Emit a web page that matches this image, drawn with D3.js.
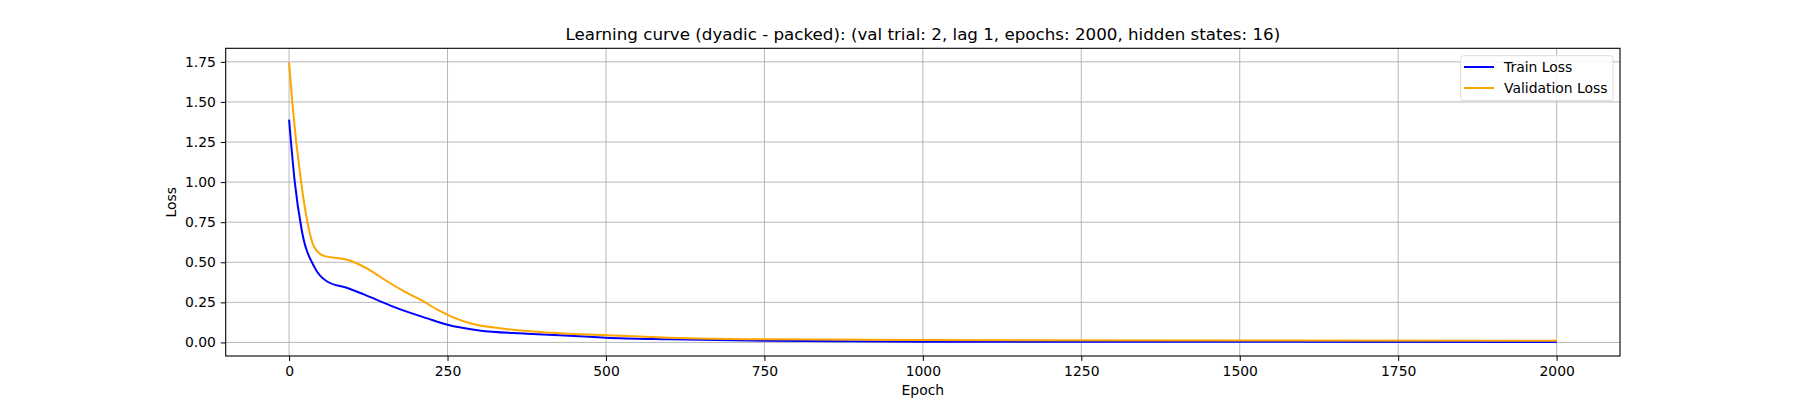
<!DOCTYPE html><html><head><meta charset="utf-8"><script src="https://cdn.jsdelivr.net/npm/d3@7"></script>
<style>body{margin:0;background:#fff}text{font-family:"DejaVu Sans",sans-serif}</style></head><body>
<svg id="c" width="1800" height="400"></svg>
<script>
const trainEpochs=[0,9,20,40,60,92,118,160,180,218,250,300,375,450,500,600,750,1000,1500,2000];
const trainLoss=[1.39,1.0,0.7,0.47,0.38,0.34,0.30,0.23,0.2,0.15,0.11,0.075,0.055,0.04,0.03,0.02,0.01,0.005,0.004,0.003];
const valEpochs=[0,5,19,29,39,55,87,103,128,155,181,208,234,260,290,330,380,440,500,600,750,1000,1500,2000];
const valLoss=[1.745,1.5,1.0,0.75,0.6,0.54,0.52,0.50,0.45,0.38,0.32,0.265,0.205,0.155,0.115,0.09,0.07,0.055,0.045,0.03,0.02,0.015,0.012,0.01];
const xTicks=[0,250,500,750,1000,1250,1500,1750,2000];
const yTicks=[0,0.25,0.5,0.75,1.0,1.25,1.5,1.75];
const L=225.7,R=1620,T=48.3,B=356;
const svg=d3.select("#c");
const x=d3.scaleLinear().domain([-100,2100]).range([L,R]);
const y=d3.scaleLinear().domain([-0.0845,1.8345]).range([B,T]);
const g=svg.append("g");
g.selectAll(".gx").data(xTicks).join("line").attr("x1",d=>x(d)).attr("x2",d=>x(d)).attr("y1",T).attr("y2",B).attr("stroke","#b0b0b0").attr("stroke-width",0.9);
g.selectAll(".gy").data(yTicks).join("line").attr("y1",d=>y(d)).attr("y2",d=>y(d)).attr("x1",L).attr("x2",R).attr("stroke","#b0b0b0").attr("stroke-width",0.9);
const ax=svg.append("g").attr("transform",`translate(0,${B})`).call(d3.axisBottom(x).tickValues(xTicks).tickFormat(d3.format("d")).tickSize(4.9).tickPadding(4.9));
const ay=svg.append("g").attr("transform",`translate(${L},0)`).call(d3.axisLeft(y).tickValues(yTicks).tickFormat(d3.format(".2f")).tickSize(4.9).tickPadding(4.9));
[ax,ay].forEach(a=>{a.select(".domain").remove();a.selectAll("text").attr("font-size","13.9px").attr("fill","#000").style("font-family","DejaVu Sans");a.selectAll("line").attr("stroke","#000")});
const line=d3.line().curve(d3.curveMonotoneX);
svg.append("path").attr("d",line(trainEpochs.map((e,i)=>[x(e),y(trainLoss[i])]))).attr("fill","none").attr("stroke","blue").attr("stroke-width",2);
svg.append("path").attr("d",line(valEpochs.map((e,i)=>[x(e),y(valLoss[i])]))).attr("fill","none").attr("stroke","orange").attr("stroke-width",2);
svg.append("rect").attr("x",L).attr("y",T).attr("width",R-L).attr("height",B-T).attr("fill","none").attr("stroke","#000").attr("stroke-width",1.1);
svg.append("text").attr("x",(L+R)/2).attr("y",40).attr("text-anchor","middle").attr("font-size","16.7px").text("Learning curve (dyadic - packed): (val trial: 2, lag 1, epochs: 2000, hidden states: 16)");
svg.append("text").attr("x",(L+R)/2).attr("y",395).attr("text-anchor","middle").attr("font-size","13.9px").text("Epoch");
svg.append("text").attr("transform",`translate(176,${(T+B)/2}) rotate(-90)`).attr("text-anchor","middle").attr("font-size","13.9px").text("Loss");
const lg=svg.append("g");
lg.append("rect").attr("x",1460.7).attr("y",55.7).attr("width",152.3).attr("height",45).attr("rx",3).attr("fill","#fff").attr("fill-opacity",0.8).attr("stroke","#ddd");
[["Train Loss","blue",67],["Validation Loss","orange",88]].forEach(([t,c,yy])=>{
lg.append("line").attr("x1",1464).attr("x2",1494).attr("y1",yy).attr("y2",yy).attr("stroke",c).attr("stroke-width",2);
lg.append("text").attr("x",1504).attr("y",yy+5).attr("font-size","13.9px").text(t);});
</script></body></html>
